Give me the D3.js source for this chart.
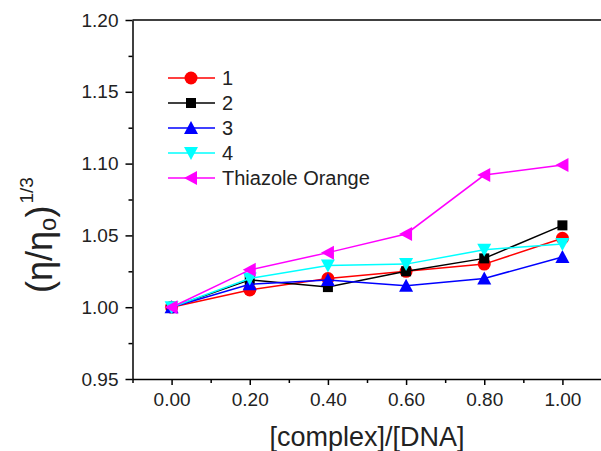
<!DOCTYPE html>
<html>
<head>
<meta charset="utf-8">
<script src="https://cdn.jsdelivr.net/npm/d3@7"></script>
<style>
  body { margin: 0; background: #fff; }
  svg { display: block; font-family: "Liberation Sans", Arial, sans-serif; }
  .axis path, .axis line { stroke: #000; stroke-width: 1.5; }
  .axis text { fill: #222; font-size: 19px; font-family: "Liberation Sans", Arial, sans-serif; }
</style>
</head>
<body>
<div id="chart"></div>
<script>
// data
var ratios = [0.0, 0.2, 0.4, 0.6, 0.8, 1.0];
var series1 = [1.000, 1.012, 1.020, 1.025, 1.030, 1.048];
var series2 = [1.000, 1.019, 1.014, 1.025, 1.034, 1.057];
var series3 = [1.000, 1.016, 1.019, 1.015, 1.020, 1.035];
var series4 = [1.000, 1.020, 1.029, 1.030, 1.040, 1.044];
var seriesTO = [1.000, 1.026, 1.038, 1.051, 1.092, 1.099];
var seriesNames = ["1", "2", "3", "4", "Thiazole Orange"];
var xTicks = [0.0, 0.2, 0.4, 0.6, 0.8, 1.0];
var xMinor = [-0.1, 0.1, 0.3, 0.5, 0.7, 0.9, 1.1];
var yTicks = [0.95, 1.00, 1.05, 1.10, 1.15, 1.20];
var yMinor = [0.975, 1.025, 1.075, 1.125, 1.175];

var width = 601, height = 451;

var svg = d3.select("#chart").append("svg")
  .attr("width", width)
  .attr("height", height);

var x = d3.scaleLinear().domain([-0.1, 1.1]).range([132.5, 601.5]);
var y = d3.scaleLinear().domain([0.95, 1.20]).range([379, 20]);

// top frame line
svg.append("line")
  .attr("x1", x(-0.1)).attr("x2", width)
  .attr("y1", y(1.20)).attr("y2", y(1.20))
  .attr("stroke", "#000").attr("stroke-width", 1.5);

// minor ticks
svg.append("g").attr("class", "axis")
  .attr("transform", "translate(" + x(-0.1) + ",0)")
  .call(d3.axisLeft(y).tickValues(yMinor).tickSize(4).tickFormat(""))
  .select(".domain").remove();
svg.append("g").attr("class", "axis")
  .attr("transform", "translate(0," + y(0.95) + ")")
  .call(d3.axisBottom(x).tickValues(xMinor).tickSize(4).tickFormat(""))
  .select(".domain").remove();

// major axes
svg.append("g").attr("class", "axis")
  .attr("transform", "translate(" + x(-0.1) + ",0)")
  .call(d3.axisLeft(y).tickValues(yTicks).tickSize(7).tickSizeOuter(0)
    .tickPadding(7).tickFormat(d3.format(".2f")));
svg.append("g").attr("class", "axis")
  .attr("transform", "translate(0," + y(0.95) + ")")
  .call(d3.axisBottom(x).tickValues(xTicks).tickSize(6).tickSizeOuter(0)
    .tickPadding(8).tickFormat(d3.format(".2f")));

var all = [
  { name: seriesNames[0], vals: series1, color: "#ff0000", sym: "circle" },
  { name: seriesNames[1], vals: series2, color: "#000000", sym: "square" },
  { name: seriesNames[2], vals: series3, color: "#0000ff", sym: "up" },
  { name: seriesNames[3], vals: series4, color: "#00ffff", sym: "down" },
  { name: seriesNames[4], vals: seriesTO, color: "#ff00ff", sym: "left" }
];

function marker(g, sym, color) {
  if (sym == "circle") {
    g.append("circle").attr("r", 6.5).attr("fill", color);
  } else if (sym == "square") {
    g.append("rect").attr("x", -5).attr("y", -5).attr("width", 10).attr("height", 10).attr("fill", color);
  } else if (sym == "up") {
    g.append("path").attr("d", "M0,-7L7,6L-7,6Z").attr("fill", color);
  } else if (sym == "down") {
    g.append("path").attr("d", "M0,7L7,-6L-7,-6Z").attr("fill", color);
  } else {
    g.append("path").attr("d", "M-7,0L6,-7L6,7Z").attr("fill", color);
  }
}

var line = d3.line()
  .x(function(d, i) { return x(ratios[i]); })
  .y(function(d) { return y(d); });

all.forEach(function(s) {
  svg.append("path")
    .datum(s.vals)
    .attr("d", line)
    .attr("fill", "none")
    .attr("stroke", s.color)
    .attr("stroke-width", 1.5);
  s.vals.forEach(function(v, i) {
    var g = svg.append("g").attr("transform", "translate(" + x(ratios[i]) + "," + y(v) + ")");
    marker(g, s.sym, s.color);
  });
});

// legend
var legend = svg.append("g").attr("transform", "translate(168,78)");
all.forEach(function(s, i) {
  var row = legend.append("g").attr("transform", "translate(0," + (i * 25) + ")");
  row.append("line").attr("x1", 0).attr("x2", 47).attr("y1", 0).attr("y2", 0)
    .attr("stroke", s.color).attr("stroke-width", 1.5);
  var m = row.append("g").attr("transform", "translate(23,0)");
  marker(m, s.sym, s.color);
  row.append("text").attr("x", 54).attr("y", 7)
    .attr("font-size", 20).attr("fill", "#222")
    .text(s.name);
});

// axis titles
svg.append("text")
  .attr("x", 367).attr("y", 446)
  .attr("text-anchor", "middle")
  .attr("font-size", 27).attr("fill", "#222")
  .text("[complex]/[DNA]");

var yt = svg.append("text")
  .attr("transform", "translate(52,293) rotate(-90)")
  .attr("text-anchor", "start")
  .attr("font-size", 36).attr("fill", "#222");
yt.append("tspan").text("(η/η");
yt.append("tspan").attr("font-size", 24).attr("dy", 4).text("o");
yt.append("tspan").attr("dy", -4).text(")");
yt.append("tspan").attr("font-size", 19).attr("dy", -19).attr("dx", 2).text("1/3");
</script>
</body>
</html>
